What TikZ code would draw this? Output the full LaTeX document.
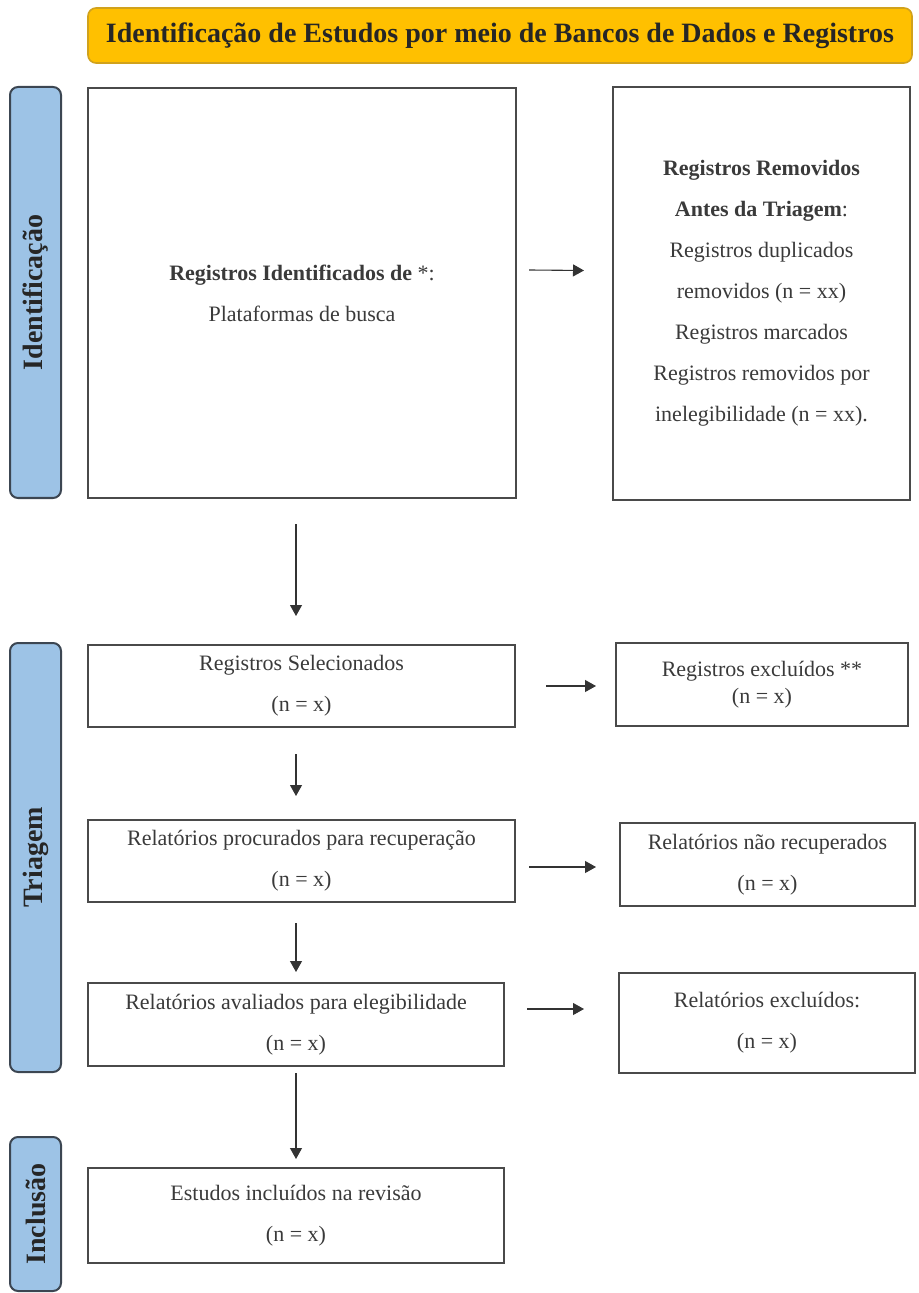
\documentclass[tikz,border=0pt]{standalone}
\usepackage{fontspec}
\setmainfont{Liberation Serif}
\usetikzlibrary{arrows.meta, positioning, calc}
\definecolor{gold}{HTML}{FFC000}
\definecolor{golddark}{HTML}{D1A21C}
\definecolor{phaseblue}{HTML}{9DC3E6}
\definecolor{phaseline}{HTML}{3C4652}
\definecolor{boxline}{HTML}{4A4A4A}
\definecolor{txt}{HTML}{3A3A3A}

\begin{document}
\begin{tikzpicture}
	[
	x = 0.5pt, y = -0.5pt,
	banner/.style = {rectangle, rounded corners = 4pt, draw = golddark, line width = 0.8pt, fill = gold, inner sep = 0pt, font = \fontsize{14}{16}\selectfont\bfseries, text = black!85},
	box/.style = {rectangle, draw = boxline, line width = 1pt, inner sep = 0pt, align = center, text = txt, font = \fontsize{11}{20.5}\selectfont},
	phase/.style = {rectangle, rounded corners = 4pt, draw = phaseline, line width = 1pt, fill = phaseblue, rotate = 90, inner sep = 0pt, font = \fontsize{14}{16}\selectfont\bfseries, text = black!85},
	tip/.style = {
		->,
		>={Triangle[width=6pt,length=5.5pt]},
		line width = 0.55pt, draw = black!80
	}
	]
	\useasboundingbox (0,0) rectangle (918,1293);

	\node[banner, minimum width = 412pt, minimum height = 27.5pt] (title) at (500,35.5) {Identificação de Estudos por meio de Bancos de Dados e Registros};

	% fases
	\node[phase, minimum width = 205.5pt, minimum height = 25.5pt] (identif) at (35.5,292.5) {Identificação};
	\node[phase, minimum width = 214.5pt, minimum height = 25.5pt] (triagem) at (35.5,857.5) {Triagem};
	\node[phase, minimum width = 77pt, minimum height = 25.5pt] (inclusao) at (35.5,1214) {Inclusão};

	% caixas
	\node[box, minimum width = 214pt, minimum height = 205pt] (regid) at (302,293) {\textbf{Registros Identificados de} *:\\ Plataformas de busca};
	\node[box, minimum width = 148.5pt, minimum height = 206.5pt] (regrem) at (761.5,293.5) {\textbf{Registros Removidos}\\ \textbf{Antes da Triagem}:\\ Registros duplicados\\ removidos (n = xx)\\ Registros marcados\\ Registros removidos por\\ inelegibilidade (n = xx).};
	\node[box, minimum width = 213.5pt, minimum height = 41pt] (regsel) at (301.5,686) {Registros Selecionados\\ (n = x)};
	\node[box, minimum width = 146pt, minimum height = 41.5pt] (regexc) at (762,684.5) {Registros excluídos **\\[-7pt] (n = x)};
	\node[box, minimum width = 213.5pt, minimum height = 41pt] (relproc) at (301.5,861) {Relatórios procurados para recuperação\\ (n = x)};
	\node[box, minimum width = 147.5pt, minimum height = 41.5pt] (relnrec) at (767.5,864.5) {Relatórios não recuperados\\ (n = x)};
	\node[box, minimum width = 208pt, minimum height = 41.5pt] (relaval) at (296,1024.5) {Relatórios avaliados para elegibilidade\\ (n = x)};
	\node[box, minimum width = 148pt, minimum height = 50pt] (relexc) at (767,1023) {Relatórios excluídos:\\ (n = x)};
	\node[box, minimum width = 208pt, minimum height = 47.5pt] (estinc) at (296,1215.5) {Estudos incluídos na revisão\\ (n = x)};

	% setas
	\draw[tip] ([xshift=6pt, yshift=11.5pt]regid.east) -- ([xshift=-14pt, yshift=11.5pt]regrem.west);
	\draw[tip, shorten <=15pt, shorten >=9.5pt] (regsel.east) -- (regsel.east -| regexc.west);
	\draw[tip, shorten <=6.5pt, shorten >=11.5pt] ([yshift=-3pt]relproc.east) -- ([yshift=-3pt]relproc.east -| relnrec.west);
	\draw[tip, shorten <=11pt, shorten >=17pt] ([yshift=7.75pt]relaval.east) -- ([yshift=7.75pt]relaval.east -| relexc.west);
	\draw[tip, shorten <=12.5pt, shorten >=14pt] (regid.south -| relaval.north) -- (regsel.north -| relaval.north);
	\draw[tip, shorten <=13pt, shorten >=11.5pt] (regsel.south -| relaval.north) -- (relproc.north -| relaval.north);
	\draw[tip, shorten <=10pt, shorten >=5pt] (relproc.south -| relaval.north) -- (relaval.north);
	\draw[tip, shorten <=3pt, shorten >=4pt] (relaval.south) -- (estinc.north);
\end{tikzpicture}
\end{document}
